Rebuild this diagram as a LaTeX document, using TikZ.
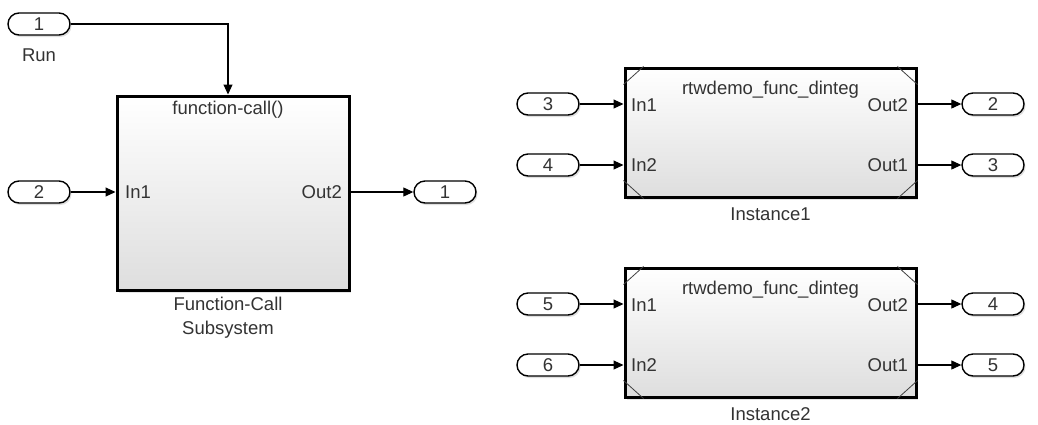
\documentclass[tikz,border=0pt]{standalone}
\usepackage{fontspec}
\setmainfont{Liberation Sans}
\usetikzlibrary{arrows.meta,positioning,shapes.misc,shadows,calc}

\begin{document}
\begin{tikzpicture}[
  x=1pt, y=-1pt,
  font=\fontsize{18.5}{24}\selectfont,
  port/.style={draw, rounded rectangle, line width=1.4pt, minimum width=62pt, minimum height=22pt,
    inner sep=0pt, fill=white, text=black!80, drop shadow={opacity=0.25, shadow xshift=1.5pt, shadow yshift=-2pt}},
  block/.style={draw, line width=3pt, top color=white, bottom color=black!13,
    drop shadow={opacity=0.2, shadow xshift=2pt, shadow yshift=-2.5pt}},
  sig/.style={-{Triangle[length=10pt,width=9pt]}, line width=1.1pt},
  lbl/.style={text=black!80, inner sep=0pt},
  corner/.style={draw=black!75, line width=0.8pt}
]
\path[fill=white, use as bounding box] (0,0) rectangle (1038,424);

% function-call subsystem
\node[block, minimum width=232pt, minimum height=194pt] (fcs) at (233,193) {};
\node[lbl] (fcall) at (228,110) {function-call()};
\node[lbl, anchor=west] (fcsin) at (125,192) {In1};
\node[lbl, anchor=east] (fcsout) at (342,192) {Out2};
\node[lbl, align=center] (fcsname) at (228,318) {Function-Call\\Subsystem};

\node[port] (run) at (39,24) {1};
\node[lbl, below=13pt of run] (runname) {Run};
\node[port] (in2) at (39,192) {2};
\node[port] (out1) at (445,192) {1};

\draw[sig] (run.east) -| ($(fcs.north)+(-5,0)$);
\draw[sig] (in2.east) -- (in2 -| fcs.west);
\draw[sig] (fcs.east |- out1) -- (out1.west);

% model reference instances
\node[block, minimum width=291pt, minimum height=129pt] (inst1) at (770.5,132.5) {};
\node[block, minimum width=291pt, minimum height=129pt] (inst2) at (770.5,332.5) {};

\foreach \blk/\nm in {inst1/Instance1, inst2/Instance2} {
  \draw[corner] ($(\blk.north west)+(0,18)$) -- ($(\blk.north west)+(20,0)$);
  \draw[corner] ($(\blk.north east)+(-20,0)$) -- ($(\blk.north east)+(0,18)$);
  \draw[corner] ($(\blk.south west)+(0,-18)$) -- ($(\blk.south west)+(20,0)$);
  \draw[corner] ($(\blk.south east)+(-20,0)$) -- ($(\blk.south east)+(0,-18)$);
  \node[lbl] (\blk title) at ($(\blk.north)+(0,23)$) {rtwdemo\_func\_dinteg};
  \node[lbl, below=9pt of \blk.south] (\blk name) {\nm};
}

\node[port] (in3) at (548,104) {3};
\node[port] (in4) at (548,165) {4};
\node[port] (out2) at (993,104) {2};
\node[port] (out3) at (993,165) {3};
\node[port] (in5) at (548,304) {5};
\node[port] (in6) at (548,365) {6};
\node[port] (out4) at (993,304) {4};
\node[port] (out5) at (993,365) {5};

\foreach \blk/\ia/\ib/\oa/\ob/\dy in {inst1/in3/in4/out2/out3/0, inst2/in5/in6/out4/out5/200} {
  \node[lbl, anchor=west] at (631,105+\dy) {In1};
  \node[lbl, anchor=west] at (631,165+\dy) {In2};
  \node[lbl, anchor=east] at (908,105+\dy) {Out2};
  \node[lbl, anchor=east] at (908,165+\dy) {Out1};
  \draw[sig] (\ia.east) -- (\ia -| \blk.west);
  \draw[sig] (\ib.east) -- (\ib -| \blk.west);
  \draw[sig] (\blk.east |- \oa) -- (\oa.west);
  \draw[sig] (\blk.east |- \ob) -- (\ob.west);
}

\end{tikzpicture}
\end{document}
